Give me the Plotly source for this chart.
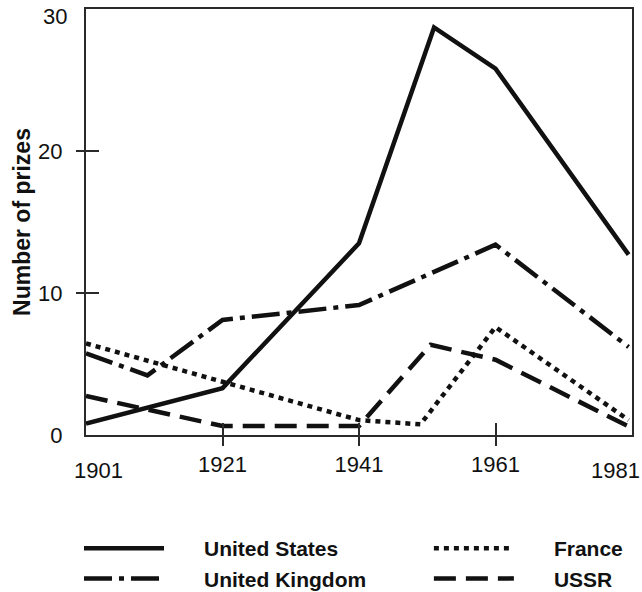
import plotly.graph_objects as go

# ---- data ----
us_years = [1901, 1921, 1941, 1952, 1961, 1980.5]
us_prizes = [0.8, 3.3, 13.5, 28.7, 25.8, 12.7]

uk_years = [1901, 1910, 1921, 1941, 1961, 1980.5]
uk_prizes = [5.75, 4.2, 8.1, 9.15, 13.4, 6.2]

fr_years = [1901, 1941, 1950, 1961, 1980.5]
fr_prizes = [6.45, 1.05, 0.75, 7.6, 1.05]

su_years = [1901, 1921, 1941, 1951.5, 1961, 1980.5]
su_prizes = [2.75, 0.63, 0.63, 6.35, 5.3, 0.6]

x_tick_labels = [1901, 1921, 1941, 1961, 1981]
y_tick_labels = [0, 10, 20, 30]
x_inner_ticks = [1921, 1941, 1961]
y_inner_ticks = [10, 20]

FONT = "Liberation Sans, Arial, sans-serif"
INK = "#111111"
FRAME = "#2a2a2a"
TICK_SIZE = 22
PAD = "\u00a0" * 6   # gap between legend sample and its label

fig = go.Figure()
fig.add_trace(go.Scatter(x=us_years, y=us_prizes, mode="lines", name=PAD + "United States",
                         legend="legend", line=dict(color=INK, width=4.5)))
fig.add_trace(go.Scatter(x=uk_years, y=uk_prizes, mode="lines", name=PAD + "United Kingdom",
                         legend="legend",
                         line=dict(color=INK, width=4.5, dash="28px,7px,5px,7px")))
# France and USSR are drawn on overlaid axes (same ranges) that carry the
# inner / outer tick marks of the frame
fig.add_trace(go.Scatter(x=fr_years, y=fr_prizes, mode="lines", name=PAD + "France",
                         xaxis="x2", yaxis="y2",
                         legend="legend2", line=dict(color=INK, width=4.5, dash="5px,5px")))
fig.add_trace(go.Scatter(x=su_years, y=su_prizes, mode="lines", name=PAD + "USSR",
                         xaxis="x2", yaxis="y3",
                         legend="legend2", line=dict(color=INK, width=4.5, dash="22px,10px")))

xr = [x_tick_labels[0], x_tick_labels[-1]]
yr = [y_tick_labels[0], y_tick_labels[-1]]

common_x = dict(range=xr, showgrid=False, zeroline=False, fixedrange=True)
common_y = dict(range=yr, showgrid=False, zeroline=False, fixedrange=True)

legend_common = dict(orientation="v", yanchor="top", xanchor="left",
                     itemwidth=80, font=dict(size=21, color=INK, weight="bold"),
                     bgcolor="rgba(0,0,0,0)", borderwidth=0, tracegroupgap=0)

fig.update_layout(
    width=642, height=592,
    margin=dict(l=86, r=10, t=9, b=157, autoexpand=False),
    paper_bgcolor="white", plot_bgcolor="white",
    font=dict(family=FONT, color=INK, size=TICK_SIZE),
    xaxis=dict(**common_x, tickmode="array", tickvals=x_inner_ticks,
               ticktext=[str(v) for v in x_inner_ticks],
               ticks="outside", ticklen=9, tickwidth=2, tickcolor=FRAME,
               showline=True, linewidth=2, linecolor=FRAME, mirror=True,
               tickfont=dict(size=TICK_SIZE, color=INK)),
    xaxis2=dict(**common_x, overlaying="x", anchor="y", tickmode="array",
                tickvals=x_inner_ticks, ticks="inside", ticklen=12, tickwidth=2,
                tickcolor=FRAME, showticklabels=False, showline=False),
    yaxis=dict(**common_y, tickmode="array", tickvals=y_tick_labels[:-1],
               ticktext=[str(v) for v in y_tick_labels[:-1]], ticks="",
               showline=True, linewidth=2, linecolor=FRAME, mirror=True,
               ticklabelstandoff=17,
               tickfont=dict(size=TICK_SIZE, color=INK),
               title=dict(text="Number of prizes", standoff=1,
                          font=dict(size=23, color=INK, weight="bold"))),
    yaxis2=dict(**common_y, overlaying="y", anchor="x", tickmode="array",
                tickvals=y_inner_ticks, ticks="outside", ticklen=9, tickwidth=2,
                tickcolor=FRAME, showticklabels=False, showline=False),
    yaxis3=dict(**common_y, overlaying="y", anchor="x", tickmode="array",
                tickvals=y_inner_ticks, ticks="inside", ticklen=13, tickwidth=2,
                tickcolor=FRAME, showticklabels=False, showline=False),
    showlegend=True,
    legend=dict(**legend_common, x=-0.0128, y=-0.2183),
    legend2=dict(**legend_common, x=0.628, y=-0.2183),
)

# end labels of the axes, nudged inward as in the reference
fig.add_annotation(x=x_tick_labels[0], y=0, xref="x", yref="paper", text=str(x_tick_labels[0]),
                   showarrow=False, yanchor="top", yshift=-21, xshift=12,
                   font=dict(size=TICK_SIZE, color=INK))
fig.add_annotation(x=x_tick_labels[-1], y=0, xref="x", yref="paper", text=str(x_tick_labels[-1]),
                   showarrow=False, yanchor="top", yshift=-21, xshift=-17,
                   font=dict(size=TICK_SIZE, color=INK))
fig.add_annotation(x=0, y=y_tick_labels[-1], xref="paper", yref="y", text=str(y_tick_labels[-1]),
                   showarrow=False, xanchor="right", xshift=-17, yshift=-7,
                   font=dict(size=TICK_SIZE, color=INK))

fig.write_html("out.html", config={"displayModeBar": False},
               post_script="document.body.style.margin='0';")
